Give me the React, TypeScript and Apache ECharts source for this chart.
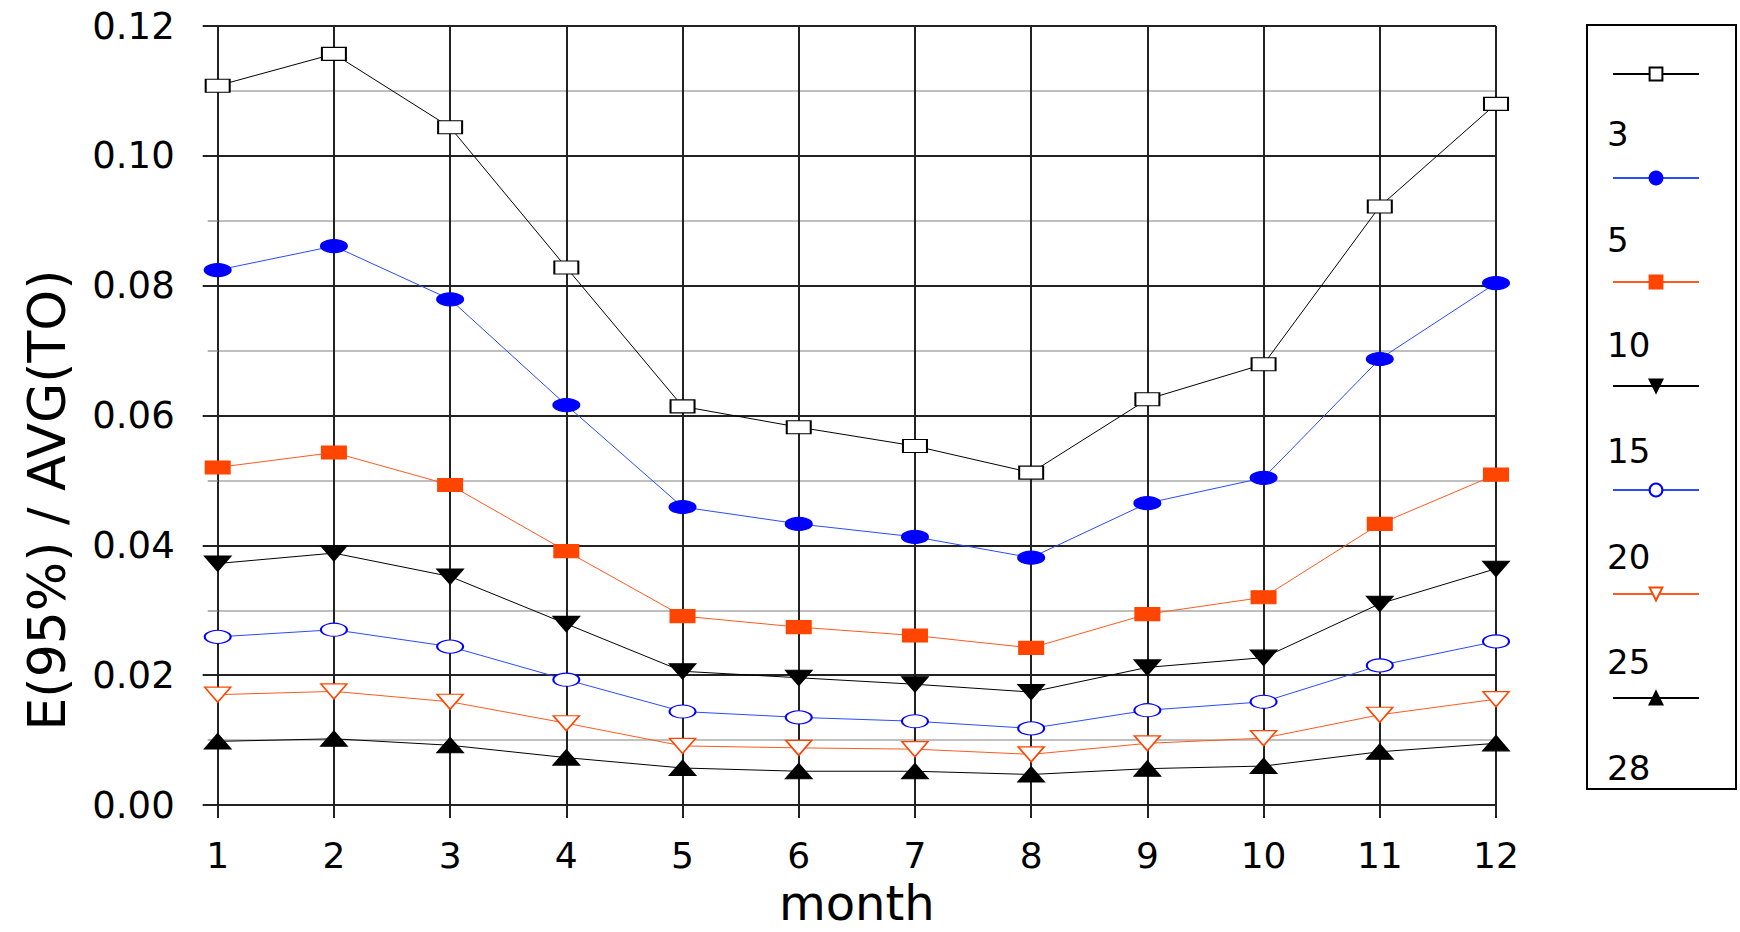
import React, { useEffect, useRef } from "react";
import * as echarts from "echarts";

const months = [1, 2, 3, 4, 5, 6, 7, 8, 9, 10, 11, 12];
const seriesNames = ["3", "5", "10", "15", "20", "25", "28"];
const yTicks = [0, 0.02, 0.04, 0.06, 0.08, 0.1, 0.12];
const xAxisTitle = "month";
const yAxisTitle = "E(95%) / AVG(TO)";

const values3 = [0.1108, 0.1157, 0.1044, 0.0828, 0.0614, 0.0582, 0.0553, 0.0512, 0.0625, 0.0679, 0.0922, 0.108];
const values5 = [0.0824, 0.0861, 0.0779, 0.0616, 0.0459, 0.0433, 0.0413, 0.0381, 0.0465, 0.0504, 0.0687, 0.0804];
const values10 = [0.052, 0.0543, 0.0493, 0.0391, 0.0291, 0.0274, 0.0261, 0.0242, 0.0294, 0.032, 0.0433, 0.0509];
const values15 = [0.0372, 0.0388, 0.0352, 0.0279, 0.0206, 0.0196, 0.0186, 0.0174, 0.0212, 0.0227, 0.031, 0.0364];
const values20 = [0.0259, 0.027, 0.0244, 0.0193, 0.0144, 0.0135, 0.0129, 0.0118, 0.0146, 0.0159, 0.0215, 0.0252];
const values25 = [0.017, 0.0175, 0.0159, 0.0126, 0.0091, 0.0088, 0.0086, 0.0078, 0.0095, 0.0103, 0.0139, 0.0163];
const values28 = [0.0098, 0.0102, 0.0092, 0.0073, 0.0057, 0.0052, 0.0052, 0.0047, 0.0056, 0.006, 0.0082, 0.0095];

const allValues = [values3, values5, values10, values15, values20, values25, values28];

const FONT = "DejaVu Sans";
const BLUE = "#0000ff";
const BLUE_LINE = "#2a4bff";
const ORANGE = "#ff4500";
const ORANGE_LINE = "#ff5a1f";

type Style = {
  symbol: string;
  rotate: number;
  size: number[];
  fill: string;
  border: string;
  line: string;
};

const styles: Style[] = [
  { symbol: "rect", rotate: 0, size: [24, 13], fill: "#ffffff", border: "#000000", line: "#000000" },
  { symbol: "circle", rotate: 0, size: [26, 13], fill: BLUE, border: BLUE, line: BLUE_LINE },
  { symbol: "rect", rotate: 0, size: [24, 13], fill: ORANGE, border: ORANGE, line: ORANGE_LINE },
  { symbol: "triangle", rotate: 180, size: [26, 15], fill: "#000000", border: "#000000", line: "#000000" },
  { symbol: "circle", rotate: 0, size: [26, 13], fill: "#ffffff", border: BLUE, line: BLUE_LINE },
  { symbol: "triangle", rotate: 180, size: [26, 15], fill: "#ffffff", border: ORANGE, line: ORANGE_LINE },
  { symbol: "triangle", rotate: 0, size: [26, 15], fill: "#000000", border: "#000000", line: "#000000" },
];

export default function App() {
  const ref = useRef<HTMLDivElement>(null);

  useEffect(() => {
    if (!ref.current) return;
    const chart = echarts.init(ref.current, undefined, { renderer: "svg" });

    const series = seriesNames.map((name, i) => {
      const st = styles[i];
      return {
        name,
        type: "line",
        data: months.map((m, j) => [m, allValues[i][j]]),
        symbol: st.symbol,
        symbolRotate: st.rotate,
        symbolSize: st.size,
        showAllSymbol: true,
        lineStyle: { color: st.line, width: 1 },
        itemStyle: { color: st.fill, borderColor: st.border, borderWidth: 1.5 },
        emphasis: { disabled: true },
        z: 3 + i,
      };
    });

    chart.setOption({
      animation: false,
      backgroundColor: "#ffffff",
      textStyle: { fontFamily: FONT },
      grid: { left: 217.7, right: 244, top: 26, bottom: 112, containLabel: false },
      xAxis: {
        type: "value",
        min: 1,
        max: 12,
        interval: 1,
        name: xAxisTitle,
        nameLocation: "middle",
        nameGap: 74,
        nameTextStyle: { fontFamily: FONT, fontSize: 48, color: "#000" },
        axisLine: { show: true, onZero: false, lineStyle: { color: "#222", width: 2 } },
        axisTick: { show: true, length: 13, lineStyle: { color: "#222", width: 2 } },
        axisLabel: { fontFamily: FONT, fontSize: 36, color: "#000", margin: 32 },
        splitLine: { show: true, lineStyle: { color: "#222", width: 2 } },
      },
      yAxis: {
        type: "value",
        min: yTicks[0],
        max: yTicks[yTicks.length - 1],
        interval: 0.02,
        axisLine: { show: true, lineStyle: { color: "#222", width: 2 } },
        axisTick: { show: true, length: 15, lineStyle: { color: "#222", width: 2 } },
        minorTick: { show: true, splitNumber: 2, length: 10, lineStyle: { color: "#999", width: 1.5 } },
        minorSplitLine: { show: true, lineStyle: { color: "#aaa", width: 1.5 } },
        axisLabel: {
          fontFamily: FONT,
          fontSize: 37,
          color: "#000",
          margin: 43,
          formatter: (v: number) => v.toFixed(2),
        },
        splitLine: { show: true, lineStyle: { color: "#222", width: 2 } },
      },
      legend: [
        {
          data: seriesNames,
          orient: "vertical",
          left: 1607,
          top: 61,
          itemWidth: 86,
          itemHeight: 16,
          itemGap: 88.6,
          selectedMode: false,
          formatter: () => "",
          textStyle: { fontSize: 8 },
        },
        {
          data: seriesNames,
          orient: "vertical",
          icon: "none",
          left: 1596,
          top: 112.2,
          itemWidth: 1,
          itemHeight: 33,
          itemGap: 71.6,
          selectedMode: false,
          textStyle: { fontFamily: FONT, fontSize: 34, color: "#000" },
        },
      ],
      graphic: [
        {
          type: "rect",
          shape: { x: 1587, y: 25, width: 149, height: 764 },
          style: { fill: "none", stroke: "#000", lineWidth: 2 },
          silent: true,
        },
        {
          type: "text",
          x: 47,
          y: 500,
          rotation: Math.PI / 2,
          style: {
            text: yAxisTitle,
            fontFamily: FONT,
            fontSize: 52,
            fill: "#000",
            textAlign: "center",
            textVerticalAlign: "middle",
          },
          silent: true,
        },
      ],
      series,
    });

    return () => {
      chart.dispose();
    };
  }, []);

  return (
    <div
      ref={ref}
      style={{ position: "absolute", left: 0, top: 0, width: 1740, height: 932, background: "#fff" }}
    />
  );
}
